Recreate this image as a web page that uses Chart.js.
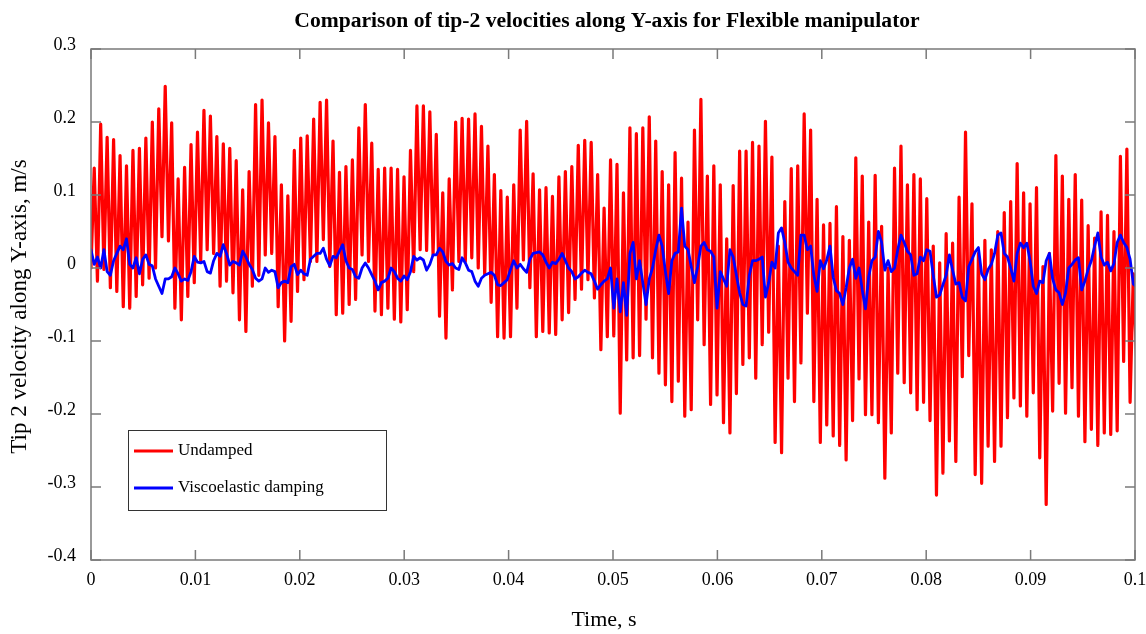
<!DOCTYPE html>
<html>
<head>
<meta charset="utf-8">
<title>Tip-2 velocities along Y-axis</title>
<script src="https://cdn.jsdelivr.net/npm/chart.js@4.4.1/dist/chart.umd.min.js"></script>
<style>
  html, body { margin: 0; padding: 0; background: #fff; }
  canvas { display: block; }
</style>
</head>
<body>
<canvas id="velocityChart" width="1146" height="634"></canvas>
<script>
const chartTitle = 'Comparison of tip-2 velocities along Y-axis for Flexible manipulator';
const xTitle = 'Time, s';
const yTitle = 'Tip 2 velocity along Y-axis, m/s';
const seriesNames = ['Undamped', 'Viscoelastic damping'];
const xTicks = [0, 0.01, 0.02, 0.03, 0.04, 0.05, 0.06, 0.07, 0.08, 0.09, 0.1];
const yTicks = [0.3, 0.2, 0.1, 0, -0.1, -0.2, -0.3, -0.4];

// both records are sampled on the same time base (s)
const sampleStep = 0.0003091;

// undamped tip velocity, m/s (start, then peak / trough pairs)
const undamped = [
  0.000,
  0.137,-0.018, 0.197,-0.002, 0.179,-0.027, 0.176,-0.032, 0.154,-0.053, 0.140,-0.055, 0.161,-0.039,
  0.164,-0.023, 0.178,-0.014, 0.200,0.000, 0.218,0.043, 0.249,0.037, 0.199,-0.055, 0.122,-0.071,
  0.138,-0.039, 0.169,-0.020, 0.186,0.010, 0.216,0.025, 0.208,0.020, 0.180,-0.025, 0.170,-0.018,
  0.164,-0.034, 0.147,-0.071, 0.107,-0.087, 0.132,-0.025, 0.224,-0.010, 0.230,0.018,
  0.199,0.020, 0.180,-0.053, 0.114,-0.100, 0.099,-0.073, 0.161,-0.032, 0.178,-0.016, 0.181,0.009,
  0.204,0.009, 0.227,0.039, 0.230,0.002, 0.174,-0.064, 0.131,-0.062, 0.139,-0.050, 0.148,-0.043, 0.192,0.018,
  0.224,0.009, 0.171,-0.059, 0.135,-0.064, 0.137,-0.055, 0.137,-0.070, 0.135,-0.074, 0.125,-0.057,
  0.161,-0.005, 0.222,0.025, 0.222,0.024, 0.214,0.018, 0.183,-0.066, 0.103,-0.096, 0.122,-0.030,
  0.200,0.009, 0.205,0.009, 0.204,0.014, 0.211,0.000, 0.194,-0.009, 0.167,-0.047, 0.128,-0.094,
  0.106,-0.096, 0.097,-0.094, 0.114,-0.055, 0.189,0.011, 0.201,-0.027, 0.129,-0.094, 0.107,-0.087,
  0.110,-0.089, 0.098,-0.091, 0.125,-0.071, 0.132,-0.061, 0.139,-0.043, 0.168,-0.029, 0.175,-0.016,
  0.172,-0.041, 0.128,-0.112, 0.082,-0.094, 0.148,-0.093, 0.142,-0.199, 0.103,-0.126,
  0.192,-0.123, 0.184,-0.120, 0.192,-0.070, 0.207,-0.123, 0.174,-0.144, 0.132,-0.160, 0.114,-0.183,
  0.158,-0.155, 0.123,-0.203, 0.063,-0.194, 0.189,-0.071, 0.231,-0.105, 0.126,-0.187, 0.140,-0.174,
  0.114,-0.212, 0.040,-0.226, 0.113,-0.172, 0.160,-0.132, 0.160,-0.123, 0.172,-0.151, 0.167,-0.105,
  0.201,-0.088, 0.152,-0.239, 0.030,-0.253, 0.091,-0.151, 0.136,-0.183, 0.140,-0.130, 0.211,-0.062,
  0.189,-0.183, 0.094,-0.239, 0.059,-0.215, 0.061,-0.230, 0.084,-0.243, 0.043,-0.263, 0.038,-0.209,
  0.151,-0.152, 0.126,-0.201, 0.063,-0.201, 0.127,-0.212, 0.057,-0.288, 0.000,-0.226, 0.137,-0.144,
  0.167,-0.157, 0.114,-0.171, 0.128,-0.194, 0.122,-0.184, 0.095,-0.209, 0.030,-0.311, 0.007,-0.281,
  0.047,-0.237, 0.034,-0.265, 0.097,-0.149, 0.186,-0.120, 0.088,-0.283, 0.020,-0.295, 0.038,-0.244,
  0.025,-0.265, 0.050,-0.244, 0.076,-0.205, 0.091,-0.178, 0.143,-0.189, 0.103,-0.203, 0.088,-0.171,
  0.110,-0.260, 0.002,-0.324, 0.020,-0.196, 0.154,-0.158, 0.126,-0.199, 0.094,-0.164, 0.128,-0.203,
  0.093,-0.238, 0.058,-0.221, 0.041,-0.243, 0.077,-0.226, 0.072,-0.228, 0.050,-0.223, 0.153,-0.128,
  0.163,-0.184, -0.008,-0.121
];

// viscoelastic damping tip velocity, m/s
const viscoelastic = [
  0.025,0.005,0.015,0.000,0.025,-0.005,-0.010,0.010,0.020,0.030,0.025,0.040,0.005,0.000,
  0.014,-0.008,0.012,0.018,0.005,0.003,-0.015,-0.025,-0.035,-0.015,-0.015,-0.012,0.000,-0.008,
  -0.018,-0.015,-0.017,-0.005,0.016,0.008,0.007,0.009,-0.005,-0.007,0.010,0.020,0.016,0.032,
  0.020,0.004,0.009,0.007,0.004,0.023,0.015,0.005,-0.002,-0.014,-0.018,-0.015,0.000,-0.006,
  -0.003,-0.005,-0.027,-0.020,-0.018,-0.020,0.002,0.005,-0.009,-0.003,-0.008,-0.010,0.012,0.016,
  0.020,0.020,0.027,0.012,0.003,0.016,0.014,0.023,0.032,0.010,0.000,-0.002,-0.012,
  -0.014,0.000,0.007,0.000,-0.009,-0.018,-0.030,-0.020,-0.018,-0.014,0.000,-0.005,-0.014,-0.018,
  -0.011,-0.016,-0.005,0.016,0.011,0.014,0.011,-0.003,0.005,0.018,0.018,0.027,0.022,0.009,
  0.004,0.006,0.000,-0.002,0.014,0.007,-0.003,-0.005,-0.018,-0.025,-0.014,-0.010,-0.008,-0.006,
  -0.010,-0.023,-0.024,-0.020,-0.016,-0.002,0.010,0.000,0.005,-0.001,-0.006,0.012,0.020,0.021,
  0.022,0.018,0.008,0.000,0.008,0.006,0.012,0.020,0.010,0.000,-0.005,-0.015,-0.012,-0.007,
  -0.003,-0.006,-0.008,-0.018,-0.029,-0.023,-0.018,-0.015,0.000,-0.055,-0.015,-0.060,-0.020,-0.065,
  0.020,0.035,-0.015,0.010,-0.020,-0.050,-0.015,0.000,0.025,0.045,0.030,-0.005,-0.035,0.010,
  0.020,0.022,0.082,0.030,0.025,0.002,-0.020,0.002,0.030,0.035,0.025,0.023,0.015,-0.055,
  -0.005,-0.015,-0.025,0.025,0.015,-0.010,-0.034,-0.050,-0.052,-0.010,0.010,0.010,0.012,0.015,
  -0.040,-0.020,0.008,0.000,0.048,0.055,0.035,0.008,0.000,-0.005,-0.010,0.045,0.045,0.025,
  0.030,-0.010,-0.032,0.010,-0.001,0.011,0.030,-0.013,-0.031,-0.035,-0.050,-0.027,0.000,0.012,
  -0.014,0.000,-0.030,-0.056,-0.012,0.010,0.015,0.050,0.035,-0.003,0.010,-0.005,0.000,0.025,
  0.045,0.035,0.023,0.018,-0.010,-0.008,0.015,0.010,0.025,0.023,-0.010,-0.040,-0.037,-0.023,
  -0.010,0.018,-0.003,-0.022,-0.020,-0.040,-0.045,0.002,0.012,0.022,0.028,-0.008,-0.016,-0.002,
  0.005,0.020,0.045,0.048,0.020,0.015,0.000,-0.018,0.020,0.034,0.028,0.034,0.010,-0.025,
  -0.035,-0.018,-0.020,0.010,0.020,-0.015,-0.030,-0.034,-0.050,-0.034,0.000,0.005,0.011,0.014,
  -0.030,-0.018,-0.002,0.010,0.030,0.048,0.015,0.004,0.008,-0.004,0.006,0.035,0.045,0.035,
  0.028,0.012,-0.022,-0.026
];

const serif = '"Liberation Serif", "Times New Roman", serif';
const toPoints = vals => vals.map((v, i) => ({ x: i * sampleStep, y: v }));

// MATLAB-like box, inward ticks, titles and legend
const matlabAxes = {
  id: 'matlabAxes',
  afterDraw(chart) {
    const { ctx, chartArea: a, scales } = chart;
    const tick = 10;
    ctx.save();
    ctx.strokeStyle = '#7a7a7a';
    ctx.lineWidth = 1.5;
    ctx.strokeRect(a.left, a.top, a.right - a.left, a.bottom - a.top);
    ctx.beginPath();
    xTicks.forEach(v => {
      const px = scales.x.getPixelForValue(v);
      ctx.moveTo(px, a.bottom); ctx.lineTo(px, a.bottom - tick);
      ctx.moveTo(px, a.top); ctx.lineTo(px, a.top + tick);
    });
    yTicks.forEach(v => {
      const py = scales.y.getPixelForValue(v);
      ctx.moveTo(a.left, py); ctx.lineTo(a.left + tick, py);
      ctx.moveTo(a.right, py); ctx.lineTo(a.right - tick, py);
    });
    ctx.stroke();

    const cx = (a.left + a.right) / 2;
    ctx.fillStyle = '#000';
    ctx.textAlign = 'center';
    ctx.textBaseline = 'middle';
    ctx.font = 'bold 21.6px ' + serif;
    ctx.fillText(chartTitle, cx - 6, 21);
    ctx.font = '22px ' + serif;
    ctx.fillText(xTitle, cx - 9, 620);
    ctx.save();
    ctx.translate(20, (a.top + a.bottom) / 2 + 2);
    ctx.rotate(-Math.PI / 2);
    ctx.font = '23px ' + serif;
    ctx.fillText(yTitle, 0, 0);
    ctx.restore();

    // legend box
    const bx = a.left + 37, by = 430, bw = 258, bh = 80;
    ctx.fillStyle = '#fff';
    ctx.fillRect(bx, by, bw, bh);
    ctx.strokeStyle = '#333';
    ctx.lineWidth = 1;
    ctx.strokeRect(bx + 0.5, by + 0.5, bw, bh);
    ctx.font = '17px ' + serif;
    ctx.textAlign = 'left';
    chart.data.datasets.forEach((ds, i) => {
      const ly = by + 21 + i * 37;
      ctx.strokeStyle = ds.borderColor;
      ctx.lineWidth = 3;
      ctx.beginPath();
      ctx.moveTo(bx + 6, ly);
      ctx.lineTo(bx + 45, ly);
      ctx.stroke();
      ctx.fillStyle = '#000';
      ctx.fillText(ds.label, bx + 50, ly);
    });
    ctx.restore();
  }
};

new Chart(document.getElementById('velocityChart'), {
  type: 'line',
  data: {
    datasets: [
      {
        label: seriesNames[0],
        data: toPoints(undamped),
        borderColor: '#ff0000',
        borderWidth: 3.2,
        order: 2
      },
      {
        label: seriesNames[1],
        data: toPoints(viscoelastic),
        borderColor: '#0000ff',
        borderWidth: 2.8,
        order: 1
      }
    ]
  },
  options: {
    responsive: false,
    animation: false,
    devicePixelRatio: 1,
    parsing: false,
    elements: {
      point: { radius: 0 },
      line: { tension: 0, borderJoinStyle: 'round', borderCapStyle: 'round' }
    },
    layout: { padding: { top: 49, right: 11, left: 0, bottom: 0 } },
    plugins: {
      legend: { display: false },
      title: { display: false },
      tooltip: { enabled: false }
    },
    scales: {
      x: {
        type: 'linear',
        min: 0,
        max: 0.1,
        afterBuildTicks: s => { s.ticks = xTicks.map(v => ({ value: v })); },
        afterFit: s => { s.height = 74; s.paddingLeft = 0; s.paddingRight = 0; },
        ticks: {
          autoSkip: false,
          maxRotation: 0,
          padding: 9,
          color: '#000',
          font: { family: serif, size: 18 },
          callback: v => String(v)
        },
        grid: { display: false, drawTicks: false },
        border: { display: false }
      },
      y: {
        type: 'linear',
        min: -0.4,
        max: 0.3,
        afterBuildTicks: s => { s.ticks = yTicks.map(v => ({ value: v })); },
        afterFit: s => { s.width = 91; s.paddingTop = 0; s.paddingBottom = 0; },
        ticks: {
          autoSkip: false,
          padding: 15,
          labelOffset: -4,
          color: '#000',
          font: { family: serif, size: 18 },
          callback: v => String(v)
        },
        grid: { display: false, drawTicks: false },
        border: { display: false }
      }
    }
  },
  plugins: [matlabAxes]
});
</script>
</body>
</html>
